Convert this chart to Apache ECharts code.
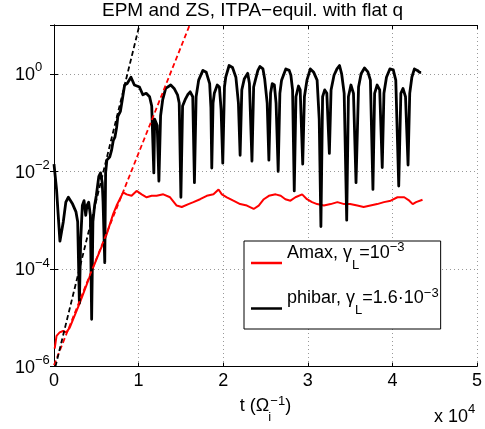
<!DOCTYPE html>
<html><head><meta charset="utf-8">
<script src="https://cdn.jsdelivr.net/npm/echarts@6/dist/echarts.min.js"></script>
<style>html,body{margin:0;padding:0;background:#fff}#c{width:485px;height:429px}</style>
</head><body><div id="c"></div>
<script>
// time in units of 10^4 (Omega_i^-1); values stored as log10 of the plotted quantity
const xTickLabels = ['0', '1', '2', '3', '4', '5'];
const yTickExponents = [-6, -4, -2, 0];

const phibarT = [0.00,0.03,0.05,0.07,0.09,0.11,0.14,0.17,0.22,0.26,0.28,0.30,0.315,0.335,0.355,0.375,0.39,0.41,0.43,0.445,0.46,0.48,0.50,0.53,0.55,0.57,0.58,0.60,0.61,0.625,0.66,0.68,0.70,0.72,0.74,0.755,0.785,0.81,0.835,0.865,0.91,0.95,1.01,1.05,1.09,1.13,1.155,1.18,1.19,1.22,1.24,1.26,1.285,1.32,1.38,1.42,1.46,1.48,1.50,1.52,1.55,1.58,1.61,1.64,1.66,1.68,1.71,1.76,1.80,1.84,1.855,1.865,1.88,1.895,1.93,1.955,1.975,1.995,2.015,2.03,2.07,2.11,2.15,2.18,2.20,2.22,2.25,2.29,2.31,2.34,2.36,2.38,2.41,2.435,2.47,2.49,2.52,2.54,2.56,2.58,2.605,2.625,2.65,2.67,2.69,2.74,2.78,2.80,2.82,2.84,2.86,2.89,2.91,2.94,2.96,2.99,3.03,3.07,3.11,3.135,3.155,3.175,3.20,3.225,3.255,3.275,3.31,3.345,3.375,3.40,3.43,3.46,3.48,3.51,3.54,3.57,3.60,3.63,3.67,3.71,3.74,3.77,3.79,3.82,3.85,3.88,3.90,3.93,3.97,4.01,4.04,4.075,4.10,4.125,4.155,4.185,4.205,4.23,4.26,4.295,4.32,4.34];
const phibarLog10 = [-1.85,-2.37,-2.9,-3.43,-3.43,-3.03,-2.63,-2.53,-2.67,-2.83,-3.03,-4.70,-3.43,-2.70,-2.60,-2.90,-2.70,-2.63,-2.90,-5.03,-3.03,-2.70,-2.50,-2.10,-2.03,-2.23,-2.63,-3.87,-2.03,-1.77,-1.70,-1.57,-1.37,-1.30,-1.10,-0.87,-0.77,-0.50,-0.23,-0.20,-0.07,-0.23,-0.27,-0.43,-0.40,-0.47,-0.66,-2.03,-0.93,-1.06,-2.20,-0.86,-0.53,-0.30,-0.23,-0.30,-0.43,-0.60,-2.53,-0.66,-0.53,-0.43,-0.37,-0.47,-2.23,-0.47,-0.13,0.07,0.03,-0.20,-0.70,-1.93,-0.60,-0.40,-0.23,-0.27,-0.73,-1.83,-0.27,-0.07,0.17,0.13,-0.07,-0.60,-1.67,-0.33,-0.10,0.01,-0.20,-1.79,-0.27,-0.13,0.07,0.15,0.10,-0.10,-0.60,-1.77,-0.40,-0.20,-0.23,-0.60,-2.00,-0.40,-0.13,0.10,0.07,-0.03,-0.33,-2.40,-0.47,-0.25,-0.33,-1.85,-0.47,-0.13,0.10,0.03,-0.13,-0.93,-3.13,-0.47,-0.33,-0.40,-1.63,-0.33,-0.03,0.10,0.17,0.00,-0.40,-3.00,-0.47,-0.23,-0.40,-2.23,-0.27,0.00,0.12,0.04,-0.13,-2.37,-0.40,-0.23,-0.33,-1.92,-0.40,-0.07,0.10,0.08,-0.13,-2.30,-0.40,-0.30,-0.47,-1.87,-0.40,-0.07,0.10,0.07,0.03,0.03];

const amaxT = [0.008,0.03,0.067,0.107,0.146,0.186,0.304,0.462,0.62,0.70,0.74,0.818,0.858,0.917,0.976,1.036,1.095,1.154,1.213,1.292,1.372,1.45,1.51,1.589,1.648,1.727,1.806,1.885,1.945,1.984,2.043,2.12,2.20,2.28,2.36,2.42,2.48,2.54,2.62,2.68,2.735,2.795,2.854,2.933,2.99,3.05,3.11,3.19,3.27,3.35,3.43,3.50,3.585,3.66,3.74,3.82,3.90,3.98,4.06,4.14,4.20,4.24,4.28,4.356];
const amaxLog10 = [-5.63,-5.37,-5.30,-5.27,-5.30,-5.20,-4.70,-3.97,-3.30,-2.87,-2.70,-2.43,-2.47,-2.50,-2.40,-2.47,-2.53,-2.50,-2.50,-2.47,-2.53,-2.70,-2.73,-2.67,-2.63,-2.57,-2.50,-2.47,-2.37,-2.47,-2.53,-2.60,-2.67,-2.70,-2.77,-2.70,-2.57,-2.50,-2.47,-2.50,-2.57,-2.60,-2.53,-2.47,-2.57,-2.63,-2.67,-2.70,-2.67,-2.63,-2.67,-2.67,-2.70,-2.73,-2.70,-2.67,-2.63,-2.60,-2.53,-2.53,-2.60,-2.67,-2.63,-2.58];

// linear-growth reference lines (end points)
const fitPhibarT = [0.017, 1.01];
const fitPhibarLog10 = [-6.0, 1.0];
const fitAmaxT = [0.0, 1.604];
const fitAmaxLog10 = [-5.97, 1.0];

const pairs = (t, l) => t.map((v, i) => [v, Math.pow(10, l[i])]);
const FONT = 'Liberation Sans';
const supMinus = s => s.replace('-', '\u2212');

const chart = echarts.init(document.getElementById('c'), null, {renderer: 'canvas'});
const yLabelRich = {
  b: {fontSize: 18, fontFamily: FONT, color: '#000', padding: [3, 0, 0, 0]},
  s: {fontSize: 13, fontFamily: FONT, color: '#000', padding: [0, 0, 12, 0]}
};
chart.setOption({
  animation: false,
  backgroundColor: '#fff',
  title: {
    text: 'EPM and ZS, ITPA\u2212equil. with flat q',
    left: 102, top: 1, padding: 0,
    textStyle: {fontFamily: FONT, fontSize: 19, fontWeight: 'normal', color: '#000'}
  },
  grid: {left: 54, right: 8, top: 25, bottom: 55, containLabel: false},
  legend: {
    orient: 'vertical', left: 244, top: 241,
    padding: [0, 2, 12, 7], itemGap: 15,
    itemWidth: 31, itemHeight: 2.5, icon: 'rect',
    borderColor: '#000', borderWidth: 1, backgroundColor: '#fff',
    selectedMode: false,
    data: ['Amax', 'phibar'],
    formatter: name => name === 'Amax'
      ? '{a|Amax, \u03b3}{sub|L}{a|=10}{sup|\u22123}'
      : '{a|phibar, \u03b3}{sub|L}{a|=1.6\u00b710}{sup|\u22123}',
    textStyle: {
      color: '#000', fontFamily: FONT, fontSize: 18,
      rich: {
        a: {fontSize: 18, fontFamily: FONT, color: '#000', padding: [0, 0, 20, 0]},
        sub: {fontSize: 13, fontFamily: FONT, color: '#000', padding: [4, 0, 0, 0]},
        sup: {fontSize: 13, fontFamily: FONT, color: '#000', padding: [0, 0, 31, 0]}
      }
    }
  },
  xAxis: [{
    type: 'value', min: 0, max: 5, interval: 1,
    axisLine: {lineStyle: {color: '#000', width: 1}},
    axisTick: {inside: true, length: 4, lineStyle: {color: '#000'}},
    axisLabel: {margin: 5, color: '#000', fontFamily: FONT, fontSize: 18,
      formatter: v => xTickLabels[Math.round(v)]},
    splitLine: {show: true, lineStyle: {color: '#999', type: [1, 3], width: 1}},
    name: '{a|t (\u03a9}{sub|i}{sup|\u22121}{a|)}',
    nameLocation: 'middle', nameGap: 15,
    nameTextStyle: {
      color: '#000', fontFamily: FONT, fontSize: 18,
      rich: {
        a: {fontSize: 18, fontFamily: FONT, color: '#000'},
        sub: {fontSize: 13, fontFamily: FONT, color: '#000', width: 1, padding: [22, 0, 0, 0]},
        sup: {fontSize: 13, fontFamily: FONT, color: '#000', padding: [0, 0, 11, 0]}
      }
    }
  }, {
    type: 'value', min: 0, max: 5, interval: 1, position: 'top',
    axisLine: {show: true, lineStyle: {color: '#000', width: 1}},
    axisTick: {show: true, inside: true, length: 4, lineStyle: {color: '#000'}},
    axisLabel: {show: false}, splitLine: {show: false}
  }],
  yAxis: [{
    type: 'log', logBase: 100, min: 1e-6, max: 10,
    axisLine: {show: true, lineStyle: {color: '#000', width: 1}},
    axisTick: {show: true, inside: true, length: 4, lineStyle: {color: '#000'}},
    minorTick: {show: false},
    axisLabel: {
      show: true, align: 'left', margin: 39, showMinLabel: true, showMaxLabel: true,
      formatter: v => {
        const e = Math.round(Math.log10(v));
        if (yTickExponents.indexOf(e) < 0) return '';
        return '{b|10}{s|' + supMinus(String(e)) + '}';
      },
      rich: yLabelRich
    },
    splitLine: {show: true, lineStyle: {color: '#999', type: [1, 3], width: 1}}
  }, {
    type: 'log', logBase: 100, min: 1e-6, max: 10, position: 'right',
    axisLine: {show: true, lineStyle: {color: '#000', width: 1}},
    axisTick: {show: true, inside: true, length: 4, lineStyle: {color: '#000'}},
    axisLabel: {show: false}, splitLine: {show: false}
  }],
  series: [{
    name: 'Amax', type: 'line', xAxisIndex: 0, yAxisIndex: 0,
    data: pairs(amaxT, amaxLog10), showSymbol: false, symbol: 'none',
    lineStyle: {color: '#ff0000', width: 2}, itemStyle: {color: '#ff0000'}, z: 2
  }, {
    name: 'phibar', type: 'line', xAxisIndex: 0, yAxisIndex: 0,
    data: pairs(phibarT, phibarLog10), showSymbol: false, symbol: 'none',
    lineStyle: {color: '#000', width: 2.8, join: 'round'}, itemStyle: {color: '#000'}, z: 3
  }, {
    name: 'fitAmax', type: 'line', xAxisIndex: 0, yAxisIndex: 0,
    data: pairs(fitAmaxT, fitAmaxLog10), showSymbol: false, symbol: 'none',
    lineStyle: {color: '#ff0000', width: 1.8, type: [5, 3]}, z: 4
  }, {
    name: 'fitPhibar', type: 'line', xAxisIndex: 0, yAxisIndex: 0,
    data: pairs(fitPhibarT, fitPhibarLog10), showSymbol: false, symbol: 'none',
    lineStyle: {color: '#000', width: 1.8, type: [5, 3]}, z: 4
  }],
  graphic: [{
    type: 'text', left: 434, top: 403,
    style: {
      text: '{a|x 10}{s|4}',
      rich: {
        a: {fontSize: 18, fontFamily: FONT, fill: '#000'},
        s: {fontSize: 13, fontFamily: FONT, fill: '#000', padding: [0, 0, 15, 0]}
      }
    }
  }]
});
</script>
</body></html>
